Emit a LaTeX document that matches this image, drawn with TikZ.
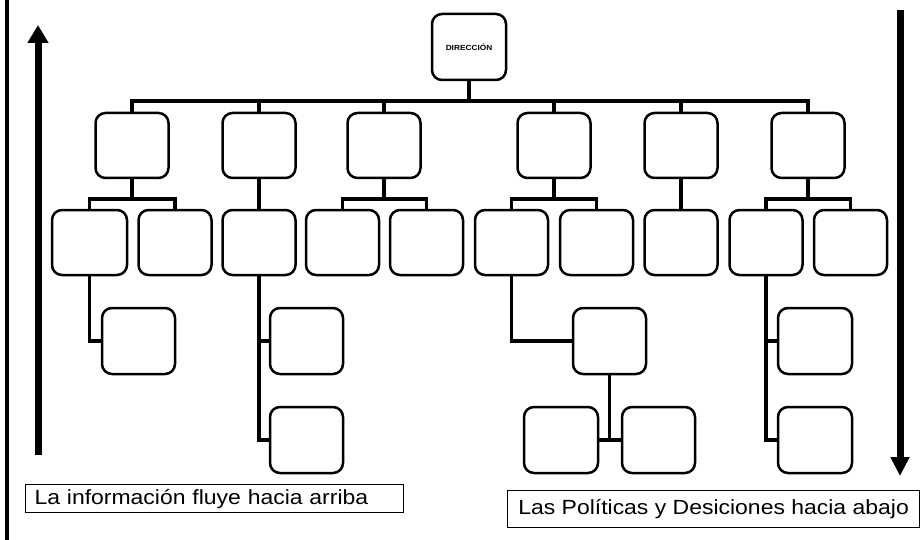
\documentclass[tikz,border=0pt]{standalone}
\usepackage{fontspec}
\setmainfont{Liberation Sans}
\newfontfamily\widesans[FakeStretch=1.12]{Liberation Sans}
\usetikzlibrary{arrows.meta}

\tikzset{
  unit/.style={draw, line width=2.5pt, rounded corners=10pt, minimum width=73pt, minimum height=65pt, inner sep=0pt},
  conn/.style={line width=3.5pt},
  flow/.style={line width=7pt, -{Triangle[width=20pt,length=18pt]}},
  caption/.style={draw, line width=1.2pt, anchor=north west, inner xsep=9pt, inner ysep=0pt, font=\widesans\fontsize{20.5}{22}\selectfont}
}

\begin{document}
\begin{tikzpicture}[x=1pt, y=-1pt]
  \useasboundingbox (0,0) rectangle (923,540);
  \fill[white] (0,0) rectangle (923,540);

  % page frame on the left
  \coordinate (ftop) at (7,0);
  \coordinate (fbot) at (7,540);
  \draw[line width=3.5pt] (ftop) -- (fbot);

  % top of the chart
  \node[unit, minimum width=74pt, minimum height=66pt] (root) at (469,47)
    {\widesans\bfseries\fontsize{7.4}{8}\selectfont DIRECCIÓN};

  % first level
  \node[unit] (n1) at (132,145.5) {};
  \node[unit] (n2) at (259,145.5) {};
  \node[unit] (n3) at (384,145.5) {};
  \node[unit] (n4) at (554,145.5) {};
  \node[unit] (n5) at (681,145.5) {};
  \node[unit] (n6) at (808,145.5) {};

  % second level
  \node[unit, minimum width=75pt] (a) at (89.5,242.5) {};
  \node[unit] (b) at (175,242.5) {};
  \node[unit] (c) at (259,242.5) {};
  \node[unit] (d) at (342.5,242.5) {};
  \node[unit] (e) at (426.5,242.5) {};
  \node[unit] (f) at (511.5,242.5) {};
  \node[unit] (g) at (596.5,242.5) {};
  \node[unit] (h) at (681,242.5) {};
  \node[unit] (i) at (766,242.5) {};
  \node[unit] (j) at (850.5,242.5) {};

  % third and fourth levels
  \node[unit, minimum height=66pt] (a3) at (138.5,341) {};
  \node[unit, minimum height=66pt] (c3) at (306.5,341) {};
  \node[unit, minimum height=66pt] (c4) at (306.5,440) {};
  \node[unit, minimum height=66pt] (k) at (609.5,341) {};
  \node[unit, minimum height=66pt, minimum width=74pt] (l) at (561,440) {};
  \node[unit, minimum height=66pt] (m) at (658.5,440) {};
  \node[unit, minimum height=66pt, minimum width=74pt] (i3) at (815,341) {};
  \node[unit, minimum height=66pt, minimum width=74pt] (i4) at (815,440) {};

  % connectors between levels
  \coordinate (bus) at (0,101);
  \coordinate (sub) at (0,199);
  \draw[conn] (root.south) -- (root.south|-bus);
  \draw[conn] (n1.north) -- (n1.north|-bus) -- (n6.north|-bus) -- (n6.north);
  \foreach \n in {n2,n3,n4,n5}
    \draw[conn] (\n.north) -- (\n.north|-bus);

  \draw[conn] (n1.south) -- (n1.south|-sub);
  \draw[conn] (a.north) -- (a.north|-sub) -- (b.north|-sub) -- (b.north);
  \draw[conn] (n2.south) -- (c.north);
  \draw[conn] (n3.south) -- (n3.south|-sub);
  \draw[conn] (d.north) -- (d.north|-sub) -- (e.north|-sub) -- (e.north);
  \draw[conn] (n4.south) -- (n4.south|-sub);
  \draw[conn] (f.north) -- (f.north|-sub) -- (g.north|-sub) -- (g.north);
  \draw[conn] (n5.south) -- (h.north);
  \draw[conn] (n6.south) -- (n6.south|-sub);
  \draw[conn] (i.north) -- (i.north|-sub) -- (j.north|-sub) -- (j.north);

  \draw[conn] (a.south) |- (a3.west);
  \draw[conn] (c.south) |- (c4.west);
  \draw[conn] (c.south|-c3.west) -- (c3.west);
  \draw[conn] (f.south) |- (k.west);
  \draw[conn] (k.south) -- (k.south|-l.east);
  \draw[conn] (l.east) -- (m.west);
  \draw[conn] (i.south) |- (i4.west);
  \draw[conn] (i.south|-i3.west) -- (i3.west);

  % flow arrows
  \coordinate (upfoot) at (38,455);
  \coordinate (uptip) at (38,25);
  \draw[flow] (upfoot) -- (uptip);
  \coordinate (downtop) at (900,10);
  \coordinate (downtip) at (900,476);
  \draw[flow, -{Triangle[width=18pt,length=19pt]}] (downtop) -- (downtip);

  % captions
  \node[caption, minimum width=378pt, minimum height=28pt, text width=360pt, align=left] (upcap) at (25,484)
    {La información fluye hacia arriba};
  \node[caption, minimum width=412pt, minimum height=37pt] (downcap) at (507,490)
    {Las Políticas y Desiciones hacia abajo};
\end{tikzpicture}
\end{document}
